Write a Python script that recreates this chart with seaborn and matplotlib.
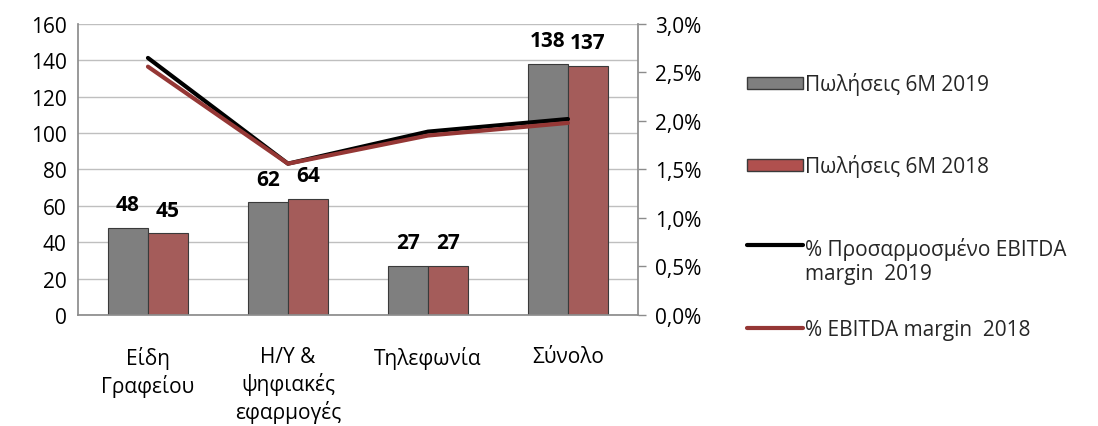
"""Sales 6M 2019 vs 2018 by category, with EBITDA margin lines on a second axis."""

import matplotlib
matplotlib.use("Agg")
import matplotlib.pyplot as plt
import matplotlib.patches as mpatches
import matplotlib.lines as mlines
from matplotlib.legend_handler import HandlerLine2D
from matplotlib.ticker import FuncFormatter, MultipleLocator
import numpy as np
import pandas as pd
import seaborn as sns

categories = ["Είδη\nΓραφείου", "Η/Υ &\nψηφιακές\nεφαρμογές", "Τηλεφωνία", "Σύνολο"]
sales_2019 = [48, 62, 27, 138]
sales_2018 = [45, 64, 27, 137]
margin_2019 = [0.0265, 0.0156, 0.0189, 0.0202]
margin_2018 = [0.0256, 0.0156, 0.0185, 0.0198]

label_s19 = "Πωλήσεις 6Μ 2019"
label_s18 = "Πωλήσεις 6Μ 2018"
label_m19 = "% Προσαρμοσμένο EBITDA\nmargin  2019"
label_m18 = "% EBITDA margin  2018"

grey = "#7f7f7f"
red = "#b0504e"
line_red = "#953735"


class RaisedLineHandler(HandlerLine2D):
    """Line handle lifted to the first row of a two-row label."""

    def __init__(self, shift, **kw):
        super().__init__(**kw)
        self.shift = shift

    def create_artists(self, legend, orig_handle, xdescent, ydescent, width, height,
                       fontsize, trans):
        artists = super().create_artists(legend, orig_handle, xdescent, ydescent,
                                         width, height, fontsize, trans)
        for a in artists:
            a.set_ydata(np.asarray(a.get_ydata()) + self.shift)
        return artists


sns.set_theme(style="white")
plt.rcParams["font.family"] = ["Open Sans", "DejaVu Sans"]

bars = pd.DataFrame({
    "category": categories * 2,
    "value": sales_2019 + sales_2018,
    "series": [label_s19] * 4 + [label_s18] * 4,
})

fig = plt.figure(figsize=(10.98, 4.27), dpi=100)
ax = fig.add_axes([0.071, 0.26, 0.51, 0.6815])

sns.barplot(data=bars, x="category", y="value", hue="series",
            palette=[grey, red], width=0.57, ax=ax, legend=False,
            edgecolor="#3a3a3a", linewidth=0.8)

for container, vals in zip(ax.containers, [sales_2019, sales_2018]):
    for patch, v in zip(container, vals):
        ax.annotate(f"{v}", (patch.get_x() + patch.get_width() / 2, patch.get_height()),
                    xytext=(0, 9), textcoords="offset points", ha="center", va="bottom",
                    fontsize=15, fontweight="bold", color="black")

ax.set_ylim(0, 160)
ax.set_xlim(-0.5, 3.5)
ax.yaxis.set_major_locator(MultipleLocator(20))
ax.grid(axis="y", color="#bfbfbf", linewidth=1)
ax.set_axisbelow(True)
ax.set_xlabel("")
ax.set_ylabel("")
ax.tick_params(axis="both", labelsize=15, colors="black", length=0, pad=8)
ax.tick_params(axis="x", pad=22)
for lab in ax.get_xticklabels():
    lab.set_linespacing(1.3)
for side in ["left", "bottom"]:
    ax.spines[side].set_color("#8c8c8c")
ax.spines["top"].set_visible(False)
ax.spines["right"].set_visible(False)

ax2 = ax.twinx()
x_pos = np.arange(len(categories))
sns.lineplot(x=x_pos, y=margin_2019, color="black", linewidth=3, ax=ax2)
sns.lineplot(x=x_pos, y=margin_2018, color=line_red, linewidth=3, ax=ax2)
ax2.set_ylim(0, 0.03)
ax2.set_xlim(-0.5, 3.5)
ax2.yaxis.set_major_locator(MultipleLocator(0.005))
ax2.yaxis.set_major_formatter(FuncFormatter(lambda v, p: f"{v * 100:.1f}%".replace(".", ",")))
ax2.tick_params(axis="y", labelsize=15, colors="black", length=6, width=1, pad=6,
                direction="out", color="#8c8c8c")
ax2.spines["right"].set_color("#8c8c8c")
for side in ["top", "left", "bottom"]:
    ax2.spines[side].set_visible(False)

entries = [
    (mpatches.Patch(facecolor=grey, edgecolor="#3a3a3a"), label_s19, 0.829),
    (mpatches.Patch(facecolor=red, edgecolor="#3a3a3a"), label_s18, 0.636),
    (mlines.Line2D([], [], color="black", linewidth=3), label_m19, 0.443),
    (mlines.Line2D([], [], color=line_red, linewidth=3), label_m18, 0.251),
]
for handle, text, top in entries:
    fig.legend([handle], [text], loc="upper left", bbox_to_anchor=(0.680, top),
               frameon=False, fontsize=15, handlelength=2.7, handleheight=0.5,
               handletextpad=0.1, borderpad=0, borderaxespad=0,
               handler_map={mlines.Line2D: RaisedLineHandler(shift=12 if "\n" in text else 0)})

fig.savefig("out.png", dpi=100)
